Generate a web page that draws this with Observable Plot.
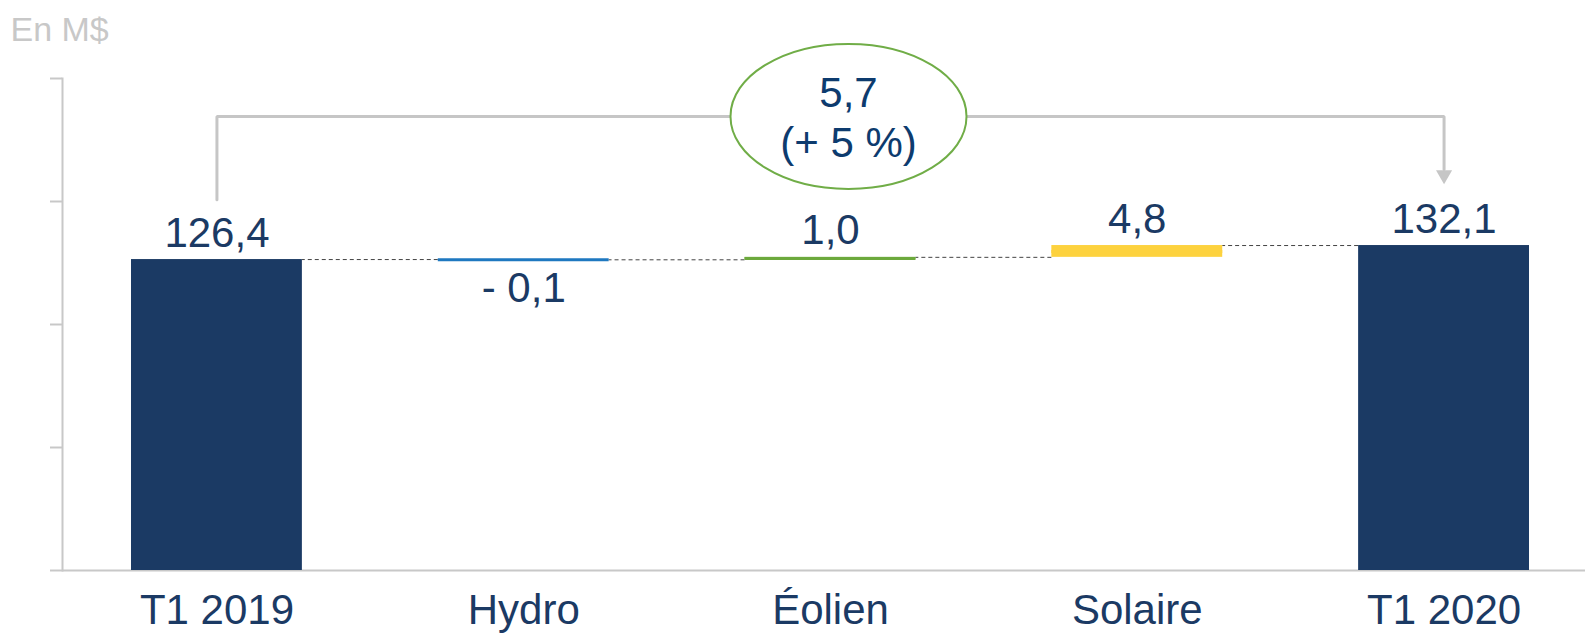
<!DOCTYPE html>
<html><head><meta charset="utf-8">
<script src="https://cdn.jsdelivr.net/npm/d3@7"></script>
<script src="https://cdn.jsdelivr.net/npm/@observablehq/plot@0.6"></script>
<style>
html,body{margin:0;padding:0;background:#fff;}
#chart svg{display:block;}
</style>
</head><body><div id="chart"></div>
<script>
// ---- data ----
const categories = ["T1 2019", "Hydro", "Éolien", "Solaire", "T1 2020"];
const values = [126.4, -0.1, 1.0, 4.8, 132.1];
const kinds = ["total", "delta", "delta", "delta", "total"];
const valueLabels = ["126,4", "- 0,1", "1,0", "4,8", "132,1"];
const barColors = ["#1B3A64", "#1E78C0", "#6CA93C", "#FDD23E", "#1B3A64"];
const yTicks = [0, 50, 100, 150, 200];
const unitLabel = "En M$";
const changeLabel = ["5,7", "(+ 5 %)"];
// annotation bracket (data units)
const bracketLevel = [184.6];
const bracketLeftEnd = [150.7];
const bracketRightEnd = [163];
const arrowTip = [160.8];

// ---- waterfall layout ----
let run = 0;
const rows = categories.map((c, i) => {
  let start, end;
  if (kinds[i] === "total") { start = 0; end = values[i]; }
  else { start = run; end = run + values[i]; }
  run = end;
  return {category: c, start, end, low: Math.min(start, end), high: Math.max(start, end),
          label: valueLabels[i], color: barColors[i], kind: kinds[i], value: values[i]};
});
const connectors = rows.slice(0, -1).map((r, i) => ({from: r.category, to: rows[i + 1].category, level: r.end}));
const bracketPath = [
  {x: categories[0], y: bracketLeftEnd[0]},
  {x: categories[0], y: bracketLevel[0]},
  {x: categories[4], y: bracketLevel[0]},
  {x: categories[4], y: bracketRightEnd[0]}
];

const ellipseSymbol = {
  draw(ctx) {
    const rx = 118, ry = 72.5, k = 0.5523;
    ctx.moveTo(rx, 0);
    ctx.bezierCurveTo(rx, ry * k, rx * k, ry, 0, ry);
    ctx.bezierCurveTo(-rx * k, ry, -rx, ry * k, -rx, 0);
    ctx.bezierCurveTo(-rx, -ry * k, -rx * k, -ry, 0, -ry);
    ctx.bezierCurveTo(rx * k, -ry, rx, -ry * k, rx, 0);
    ctx.closePath();
  }
};

const navy = "#1B3A64";
const grey = "#C8C8C8";

const chart = Plot.plot({
  width: 1585, height: 633,
  marginTop: 78, marginBottom: 63, marginLeft: 62, marginRight: 0,
  style: {fontFamily: "'Liberation Sans', Arial, sans-serif", background: "#fff", overflow: "visible"},
  x: {domain: categories, range: [131, 1529], paddingInner: 0.443, paddingOuter: 0, round: false, label: null},
  y: {domain: [0, 200], label: null},
  color: {type: "identity"},
  marks: [
    Plot.frame({anchor: "left", stroke: grey, strokeWidth: 2}),
    Plot.axisY({ticks: yTicks, tickSize: 12, tickFormat: () => "", stroke: grey, strokeWidth: 2}),
    Plot.ruleY([0], {stroke: grey, strokeWidth: 2}),
    Plot.axisX({tickSize: 0, tickPadding: 24, fontSize: 42, fill: navy, label: null}),
    Plot.ruleY(connectors, {y: "level", x1: "to", x2: "from", stroke: "#444", strokeWidth: 1, strokeDasharray: "4,3"}),
    Plot.barY(rows, {x: "category", y1: "low", y2: "high", fill: "color"}),
    Plot.tickY(rows.filter(d => d.kind === "delta"), {x: "category", y: d => (d.low + d.high) / 2, stroke: "color", strokeWidth: 3}),
    Plot.text(rows.filter(d => d.value >= 0), {x: "category", y: "high", text: "label", lineAnchor: "bottom", dy: -13, fontSize: 42, fill: navy}),
    Plot.text(rows.filter(d => d.value < 0), {x: "category", y: "low", text: "label", lineAnchor: "top", dy: 12, fontSize: 42, fill: navy}),
    Plot.line(bracketPath, {x: "x", y: "y", stroke: "#C6C6C6", strokeWidth: 3, strokeLinejoin: "miter", curve: "linear"}),
    Plot.dot([{x: categories[4], y: arrowTip[0]}], {x: "x", y: "y", symbol: "triangle", rotate: 180, r: 6, fill: "#C6C6C6", stroke: null}),
    Plot.dot([{x: categories[2], y: bracketLevel[0]}], {x: "x", y: "y", symbol: ellipseSymbol, dx: 18, fill: "white", stroke: "#70AD47", strokeWidth: 2}),
    Plot.text([{x: categories[2], y: bracketLevel[0], t: changeLabel.join("\n")}], {x: "x", y: "y", text: "t", dx: 18, fontSize: 42, lineHeight: 1.19, fill: "#0D3B6E"}),
    Plot.text([unitLabel], {frameAnchor: "top-left", text: d => d, dx: -52, dy: -38, lineAnchor: "bottom", textAnchor: "start", fontSize: 34, fill: grey})
  ]
});
document.getElementById("chart").appendChild(chart);
</script>
</body></html>
